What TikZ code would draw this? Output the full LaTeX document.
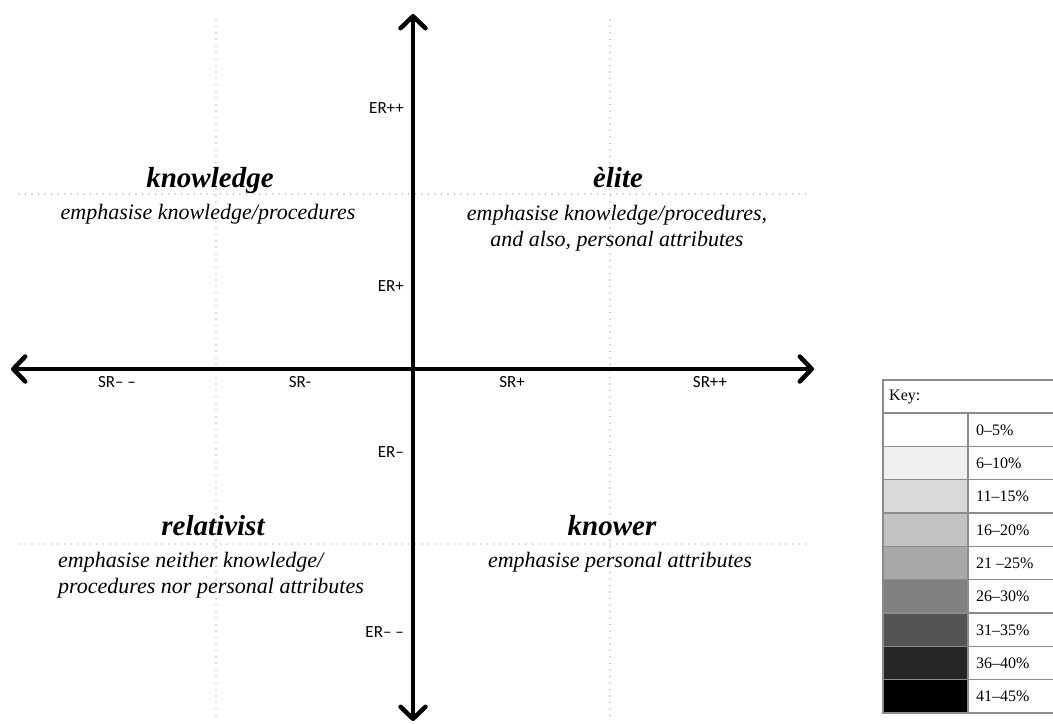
\documentclass[tikz,border=0pt]{standalone}
\usepackage{fontspec}
\setmainfont{Liberation Serif}
\newfontfamily\axisfont{Carlito}
\usetikzlibrary{arrows.meta}

% grey levels of the key
\definecolor{kA}{gray}{1.00}
\definecolor{kB}{gray}{0.94}
\definecolor{kC}{gray}{0.85}
\definecolor{kD}{gray}{0.76}
\definecolor{kE}{gray}{0.66}
\definecolor{kF}{gray}{0.50}
\definecolor{kG}{gray}{0.33}
\definecolor{kH}{gray}{0.15}
\definecolor{kI}{gray}{0.00}

\begin{document}
\begin{tikzpicture}[x=1bp,y=-1bp,
  gridline/.style={draw=black!25, line width=1.7bp, dash pattern=on 0pt off 6.5bp, line cap=round},
  axis/.style={line width=4.5bp,
    {Straight Barb[length=12bp,width=25bp,round]}-{Straight Barb[length=12bp,width=25bp,round]}},
  lab/.style={font=\axisfont\fontsize{17bp}{19bp}\selectfont, inner sep=0pt},
  ttl/.style={font=\fontsize{29bp}{32bp}\selectfont\bfseries\itshape, anchor=base, inner sep=0pt},
  sub/.style={font=\fontsize{22bp}{25.5bp}\selectfont\itshape, anchor=base, inner sep=0pt},
  keyline/.style={draw=black!45, line width=1.4bp},
  keytxt/.style={font=\fontsize{16bp}{18bp}\selectfont, anchor=west, inner sep=0pt}
]
\fill[white] (0,0) rectangle (1053,724);
\useasboundingbox (0,0) rectangle (1053,724);

% dotted guide lines
\coordinate (gv1t) at (216,20);  \coordinate (gv1b) at (216,716);
\coordinate (gv2t) at (610,20);  \coordinate (gv2b) at (610,716);
\coordinate (gh1l) at (19,194);  \coordinate (gh1r) at (806,194);
\coordinate (gh2l) at (19,544);  \coordinate (gh2r) at (806,544);
\draw[gridline] (gv1t) -- (gv1b);
\draw[gridline] (gv2t) -- (gv2b);
\draw[gridline] (gh1l) -- (gh1r);
\draw[gridline] (gh2l) -- (gh2r);

% axes
\coordinate (W) at (11,369);  \coordinate (E) at (814,369);
\coordinate (N) at (413,14);  \coordinate (S) at (413,721);
\draw[axis] (W) -- (E);
\draw[axis] (N) -- (S);

% axis labels
\node[lab] (srmm) at (117,382) {SR– –};
\node[lab] (srm)  at (300,382) {SR-};
\node[lab] (srp)  at (512,382) {SR+};
\node[lab] (srpp) at (710,382) {SR++};
\node[lab, anchor=east] (erpp) at (404,108) {ER++};
\node[lab, anchor=east] (erp)  at (404,286) {ER+};
\node[lab, anchor=east] (erm)  at (404,452) {ER–};
\node[lab, anchor=east] (ermm) at (404,632) {ER– –};

% quadrant names (base of a two-line node is its last line)
\node[ttl] (kn) at (210,188) {knowledge};
\node[sub] (knd) at (208,219) {emphasise knowledge/procedures};
\node[ttl] (el) at (618,188) {èlite};
\node[sub, align=center] (eld) at (617,246) {emphasise knowledge/procedures,\\and also, personal attributes};
\node[ttl] (re) at (213,535) {relativist};
\node[sub, align=left] (red) at (211,593) {emphasise neither knowledge/\\procedures nor personal attributes};
\node[ttl] (kw) at (612,535) {knower};
\node[sub] (kwd) at (620,567) {emphasise personal attributes};

% key
\node[keytxt] (keyhead) at (889,397) {Key:};
\foreach \i/\c/\t in {0/kA/0–5\%, 1/kB/6–10\%, 2/kC/11–15\%, 3/kD/16–20\%,
                      4/kE/21 –25\%, 5/kF/26–30\%, 6/kG/31–35\%, 7/kH/36–40\%, 8/kI/41–45\%}{
  \pgfmathsetmacro\top{413+33.33*\i}
  \fill[\c] (883,\top) rectangle (968,\top+33.33);
  \draw[keyline] (883,\top) -- (1058,\top);
  \node[keytxt] at (976,\top+17) {\t};
}
\draw[keyline] (968,413) -- (968,713);
\draw[keyline] (883,380) rectangle (1058,713);
\end{tikzpicture}
\end{document}
